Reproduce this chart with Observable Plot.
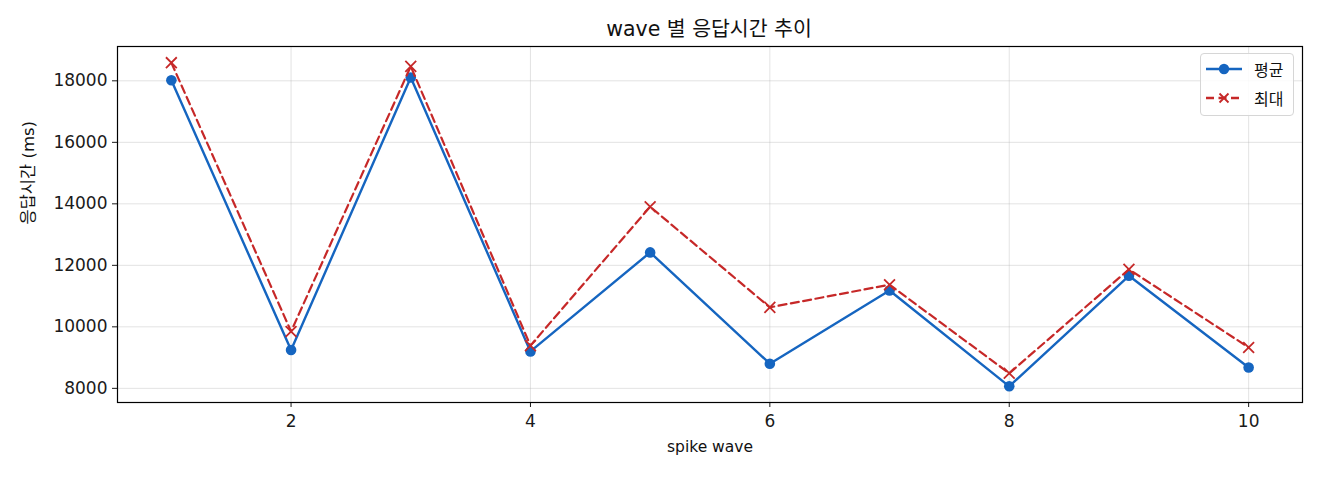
<!DOCTYPE html>
<html>
<head>
<meta charset="utf-8">
<script src="https://cdn.jsdelivr.net/npm/d3@7"></script>
<script src="https://cdn.jsdelivr.net/npm/@observablehq/plot@0.6"></script>
<style>
  html, body { margin: 0; padding: 0; background: #fff; }
  body { width: 1320px; height: 480px; position: relative; font-family: "DejaVu Sans", "Noto Sans CJK KR", sans-serif; }
  #title { height: 40px; line-height: 58px; text-align: center; font-size: 20.5px; color: #111; padding-left: 98px; box-sizing: border-box; white-space: nowrap; }
  #legend { position: absolute; left: 1200px; top: 53px; width: 94px; height: 63px; border: 1px solid #d6d6d6; border-radius: 4px; background: rgba(255,255,255,0.85); box-sizing: border-box; font-size: 16px; color: #111; font-family: "Noto Sans CJK KR", sans-serif; }
  .row { position: absolute; left: 4px; height: 22px; display: flex; align-items: center; }
  .row svg { margin-right: 11px; }
</style>
</head>
<body>
<div id="title">wave 별 응답시간 추이</div>
<div id="chart"></div>
<div id="legend">
  <div class="row" style="top:4px"><svg width="38" height="14"><line x1="1" y1="7" x2="37" y2="7" stroke="#1565C0" stroke-width="2.4"/><circle cx="19" cy="7" r="5.2" fill="#1565C0"/></svg><span>평균</span></div>
  <div class="row" style="top:33px"><svg width="38" height="14"><line x1="1" y1="7" x2="37" y2="7" stroke="#C62828" stroke-width="2.4" stroke-dasharray="8,4.5"/><path d="M14.5 2.5 L23.5 11.5 M23.5 2.5 L14.5 11.5" stroke="#C62828" stroke-width="1.8"/></svg><span>최대</span></div>
</div>
<script>
const waves = [1, 2, 3, 4, 5, 6, 7, 8, 9, 10];
const avgMs = [18020, 9245, 18110, 9200, 12420, 8800, 11180, 8066, 11660, 8680];
const maxMs = [18590, 9850, 18470, 9390, 13906, 10634, 11370, 8490, 11870, 9330];
const xTicks = [2, 4, 6, 8, 10];
const yTicks = [8000, 10000, 12000, 14000, 16000, 18000];
const xLabel = "spike wave";
const yLabel = "응답시간 (ms)";

const blue = "#1565C0";
const red = "#C62828";
const fontStack = "'DejaVu Sans', 'Noto Sans CJK KR', sans-serif";

const avgData = waves.map((w, i) => ({wave: w, value: avgMs[i]}));
const maxData = waves.map((w, i) => ({wave: w, value: maxMs[i]}));

const xMin = d3.min(waves), xMax = d3.max(waves);
const allVals = avgMs.concat(maxMs);
const yMin = d3.min(allVals), yMax = d3.max(allVals);
const xPad = (xMax - xMin) * 0.05, yPad = (yMax - yMin) * 0.05;

const chart = Plot.plot({
  width: 1320,
  height: 440,
  marginTop: 6,
  marginBottom: 78,
  marginLeft: 117,
  marginRight: 18,
  style: { fontFamily: fontStack, fontSize: "17px", color: "#1a1a1a", background: "#fff" },
  x: { domain: [xMin - xPad, xMax + xPad] },
  y: { domain: [yMin - yPad, yMax + yPad] },
  marks: [
    Plot.gridX(xTicks, { stroke: "#b0b0b0", strokeOpacity: 0.35, strokeWidth: 1 }),
    Plot.gridY(yTicks, { stroke: "#b0b0b0", strokeOpacity: 0.35, strokeWidth: 1 }),
    Plot.axisX({ ticks: xTicks, tickSize: 5, tickPadding: 7, label: null, fontSize: 17 }),
    Plot.axisY({ ticks: yTicks, tickSize: 5, tickPadding: 5, tickFormat: d => String(d), label: null, fontSize: 17 }),
    Plot.text([xLabel], { text: d => d, frameAnchor: "bottom", dy: 49, fontSize: 15.5, fill: "#111" }),
    Plot.text([yLabel], { text: d => d, frameAnchor: "left", dx: -89, rotate: -90, fontSize: 16.5, fill: "#111" }),
    Plot.line(avgData, { x: "wave", y: "value", stroke: blue, strokeWidth: 2.4 }),
    Plot.dot(avgData, { x: "wave", y: "value", fill: blue, r: 5.3 }),
    Plot.line(maxData, { x: "wave", y: "value", stroke: red, strokeWidth: 2.2, strokeDasharray: "8,4.5" }),
    Plot.dot(maxData, { x: "wave", y: "value", symbol: "times", stroke: red, strokeWidth: 1.8, r: 5 }),
    Plot.frame({ stroke: "#000", strokeWidth: 1.2 })
  ]
});
document.getElementById("chart").appendChild(chart);
</script>
</body>
</html>
